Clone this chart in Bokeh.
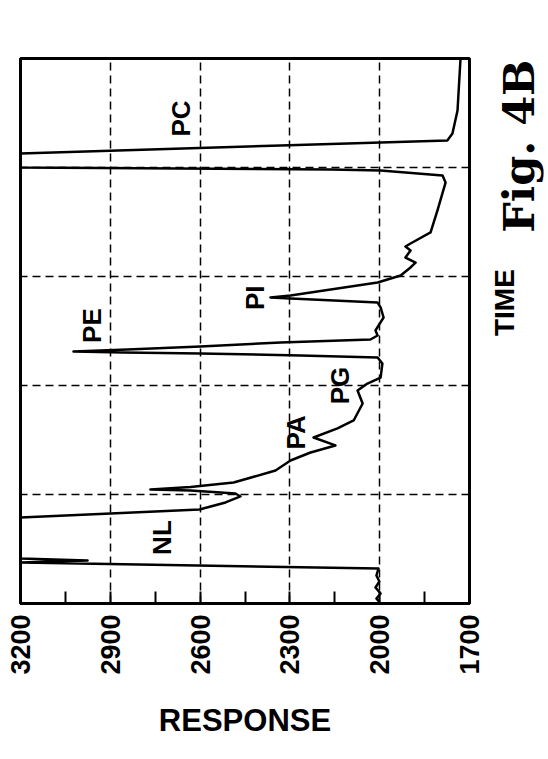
import math
from bokeh.plotting import figure
from bokeh.models import Range1d, FixedTicker, Label
from bokeh.layouts import row
from bokeh.embed import file_html
from bokeh.resources import INLINE

# ---- data (time in arbitrary units, response in detector units) ----
time = [0.0, 0.46, 0.92, 1.47, 2.02, 2.57, 3.21, 3.76, 3.95, 4.13,
        7.89, 8.26, 8.62, 9.27, 9.82, 10.09, 10.37, 10.46, 10.69, 11.10,
        12.20, 13.12, 13.85, 14.50, 15.23, 16.06, 16.79, 18.35, 19.54, 20.18,
        20.73, 22.02, 22.57, 22.75, 22.94, 23.03, 23.12, 23.30, 23.58, 23.94,
        24.22, 24.59, 25.05, 26.24, 27.16, 27.61, 27.98, 28.07, 28.26, 29.45,
        30.09, 30.83, 31.28, 31.74, 32.39, 32.75, 33.03, 34.04, 36.06, 38.62,
        39.27, 39.72, 39.82, 40.0, 41.28, 42.02, 42.48, 43.12, 45.23, 50.0]
response = [1997, 2011, 1997, 2014, 2001, 2011, 2004, 3200, 2976, 3200,
            3200, 2899, 2602, 2515, 2465, 2482, 2632, 2766, 2632, 2488,
            2348, 2298, 2231, 2148, 2221, 2141, 2087, 2057, 2074, 2041,
            1997, 1991, 2007, 2265, 2599, 2856, 3023, 2843, 2599, 2331,
            2031, 2007, 2014, 1987, 1997, 2007, 2298, 2365, 2298, 2007,
            1930, 1897, 1880, 1914, 1897, 1914, 1897, 1830, 1807, 1780,
            1790, 1997, 2164, 3200, 3200, 2331, 1774, 1757, 1740, 1730]

response_ticks = [3200, 2900, 2600, 2300, 2000, 1700]
response_minor = [3050, 2750, 2450, 2150, 1850]
response_grid = [2900, 2600, 2300, 2000]
time_grid = [10, 20, 30, 40]

peak_names = ["NL", "PA", "PG", "PE", "PI", "PC"]
peak_label_time = [6.05, 15.7, 20.0, 25.5, 28.05, 44.5]
peak_label_resp = [2726, 2281, 2134, 2960, 2415, 2665]

p = figure(width=490, height=759, x_range=Range1d(3200, 1700), y_range=Range1d(0, 50),
           output_backend="svg", toolbar_location=None,
           min_border_left=20, min_border_right=21, min_border_top=58, min_border_bottom=156)
p.background_fill_color = "white"
p.border_fill_color = "white"
p.outline_line_color = "black"
p.outline_line_width = 3
p.outline_line_alpha = 1.0

p.yaxis.visible = False

xa = p.xaxis[0]
xa.ticker = FixedTicker(ticks=response_ticks, minor_ticks=response_minor)
xa.major_label_orientation = math.pi / 2
xa.major_tick_in = 12
xa.major_tick_out = 0
xa.minor_tick_in = 12
xa.minor_tick_out = 0
xa.major_tick_line_width = 2
xa.minor_tick_line_width = 2
xa.axis_line_width = 3
xa.major_label_standoff = 11
xa.major_label_text_font = "Liberation Sans"
xa.major_label_text_font_style = "bold"
xa.major_label_text_font_size = "27px"
xa.major_label_text_color = "black"
xa.axis_label = "RESPONSE"
xa.axis_label_text_font = "Liberation Sans"
xa.axis_label_text_font_style = "bold"
xa.axis_label_text_font_size = "31px"
xa.axis_label_text_color = "black"
xa.axis_label_standoff = 25

p.xgrid.ticker = FixedTicker(ticks=response_grid)
p.ygrid.ticker = FixedTicker(ticks=time_grid)
for g in (p.xgrid[0], p.ygrid[0]):
    g.grid_line_color = "black"
    g.grid_line_dash = "8 5"
    g.grid_line_width = 1.5
    g.grid_line_alpha = 1.0

p.line(response, time, line_width=2.5, line_color="black", line_join="round")

for name, t, r in zip(peak_names, peak_label_time, peak_label_resp):
    p.add_layout(Label(x=r, y=t, text=name, angle=math.pi / 2,
                       text_font="Liberation Sans", text_font_style="bold",
                       text_font_size="26px", text_align="center",
                       text_baseline="middle", text_color="black"))

# side panel carrying the rotated axis title and the figure caption
side = figure(width=58, height=759, x_range=Range1d(0, 58), y_range=Range1d(759, 0),
              output_backend="svg", toolbar_location=None,
              min_border_left=0, min_border_right=0, min_border_top=0, min_border_bottom=0)
side.axis.visible = False
side.grid.visible = False
side.outline_line_color = None
side.background_fill_color = "white"
side.border_fill_color = "white"

side.add_layout(Label(x=14, y=340, text="TIME", angle=math.pi / 2,
                      text_font="Liberation Sans", text_font_style="bold",
                      text_font_size="28px", text_align="center",
                      text_baseline="middle", text_color="black"))
side.add_layout(Label(x=28, y=122, text="Fig. 4B", angle=math.pi / 2,
                      text_font="DejaVu Serif", text_font_style="bold",
                      text_font_size="43px",
                      text_align="center", text_baseline="middle", text_color="black"))

layout = row(p, side, spacing=0)
open("out.html", "w").write(file_html(layout, INLINE))
